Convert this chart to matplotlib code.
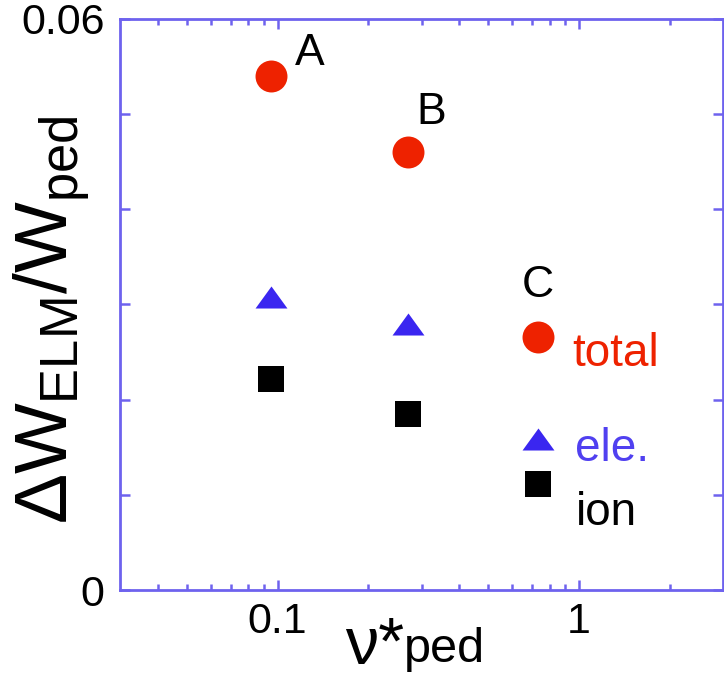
import matplotlib
matplotlib.use("Agg")
import matplotlib.pyplot as plt
from matplotlib.ticker import FixedLocator, NullFormatter, FixedFormatter

plt.rcParams['font.family'] = ['Liberation Sans', 'DejaVu Sans']
plt.rcParams['mathtext.fontset'] = 'custom'
plt.rcParams['mathtext.rm'] = 'Liberation Sans'
plt.rcParams['mathtext.it'] = 'Liberation Sans'
plt.rcParams['mathtext.bf'] = 'Liberation Sans:bold'

# data
case_labels = ["A", "B", "C"]
nu_ped = [0.095, 0.27, 0.73]
dW_total = [0.0540, 0.0460, 0.0266]
dW_ele = [0.0308, 0.0280, 0.0159]
dW_ion = [0.0222, 0.0185, 0.0111]
series_names = ["total", "ele.", "ion"]
xticks = [0.1, 1]
xtick_labels = ["0.1", "1"]
yticks = [0, 0.01, 0.02, 0.03, 0.04, 0.05, 0.06]
ytick_labels = ["0", "", "", "", "", "", "0.06"]

red = '#EE2200'
blue = '#3A26F0'
blue_txt = '#5040F0'
spine_c = '#6E62EE'

fig = plt.figure(figsize=(7.24, 6.78), dpi=100)
ax = fig.add_axes([120/724, 1 - 590/678, 603/724, 571/678])

tri = [(-1, -0.69), (1, -0.69), (0, 0.69)]
ax.plot(nu_ped, dW_total, linestyle='none', marker='o', markersize=23,
        markerfacecolor=red, markeredgewidth=0)
ax.plot(nu_ped, dW_ele, linestyle='none', marker=tri, markersize=23,
        markerfacecolor=blue, markeredgewidth=0)
ax.plot(nu_ped, dW_ion, linestyle='none', marker='s', markersize=19,
        markerfacecolor='black', markeredgewidth=0)

ax.set_xscale('log')
ax.set_xlim(0.03, 3)
ax.set_ylim(0, 0.06)

ax.xaxis.set_major_locator(FixedLocator(xticks))
ax.xaxis.set_major_formatter(FixedFormatter(xtick_labels))
ax.xaxis.set_minor_locator(FixedLocator([0.04, 0.05, 0.06, 0.07, 0.08, 0.09,
                                         0.2, 0.3, 0.4, 0.5, 0.6, 0.7, 0.8, 0.9, 2]))
ax.xaxis.set_minor_formatter(NullFormatter())
ax.yaxis.set_major_locator(FixedLocator(yticks))
ax.yaxis.set_major_formatter(FixedFormatter(ytick_labels))

for s in ax.spines.values():
    s.set_color(spine_c)
    s.set_linewidth(2)

ax.tick_params(which='both', direction='in', top=True, right=True, color=spine_c,
               labelsize=31, width=1.8)
ax.tick_params(axis='x', which='both', pad=8.5)
ax.tick_params(axis='y', which='both', pad=11)
ax.tick_params(which='major', length=7)
ax.tick_params(which='minor', length=4)

# y label
ax.set_ylabel(r'$\Delta W_{\mathrm{ELM}}/W_{\mathrm{ped}}$', fontsize=54,
              va='baseline', ha='center')
ax.yaxis.set_label_coords((68 - 120) / 603, (590 - 320) / 571)

# x label: nu* with "ped" in smaller type
ax.text((345 - 120) / 603, (590 - 664) / 571, 'ν*', transform=ax.transAxes,
        fontsize=48, ha='left', va='baseline')
ax.text((404 - 120) / 603, (590 - 662) / 571, 'ped', transform=ax.transAxes,
        fontsize=35, ha='left', va='baseline')

# case annotations
offsets_case = [(17.5, 8), (6.5, 20), (-12, 29)]
for lab, x, y, off in zip(case_labels, nu_ped, dW_total, offsets_case):
    ax.annotate(lab, (x, y), xytext=off, textcoords='offset points',
                fontsize=32, ha='left', va='baseline', color='black')

# series labels near case C
ax.annotate(series_names[0], (nu_ped[2], dW_total[2]), xytext=(25, -21),
            textcoords='offset points', fontsize=33, ha='left', va='baseline', color=red)
ax.annotate(series_names[1], (nu_ped[2], dW_ele[2]), xytext=(27, -16),
            textcoords='offset points', fontsize=33, ha='left', va='baseline', color=blue_txt)
ax.annotate(series_names[2], (nu_ped[2], dW_ion[2]), xytext=(27, -29.5),
            textcoords='offset points', fontsize=33, ha='left', va='baseline', color='black')

fig.savefig('out.png', dpi=100)
